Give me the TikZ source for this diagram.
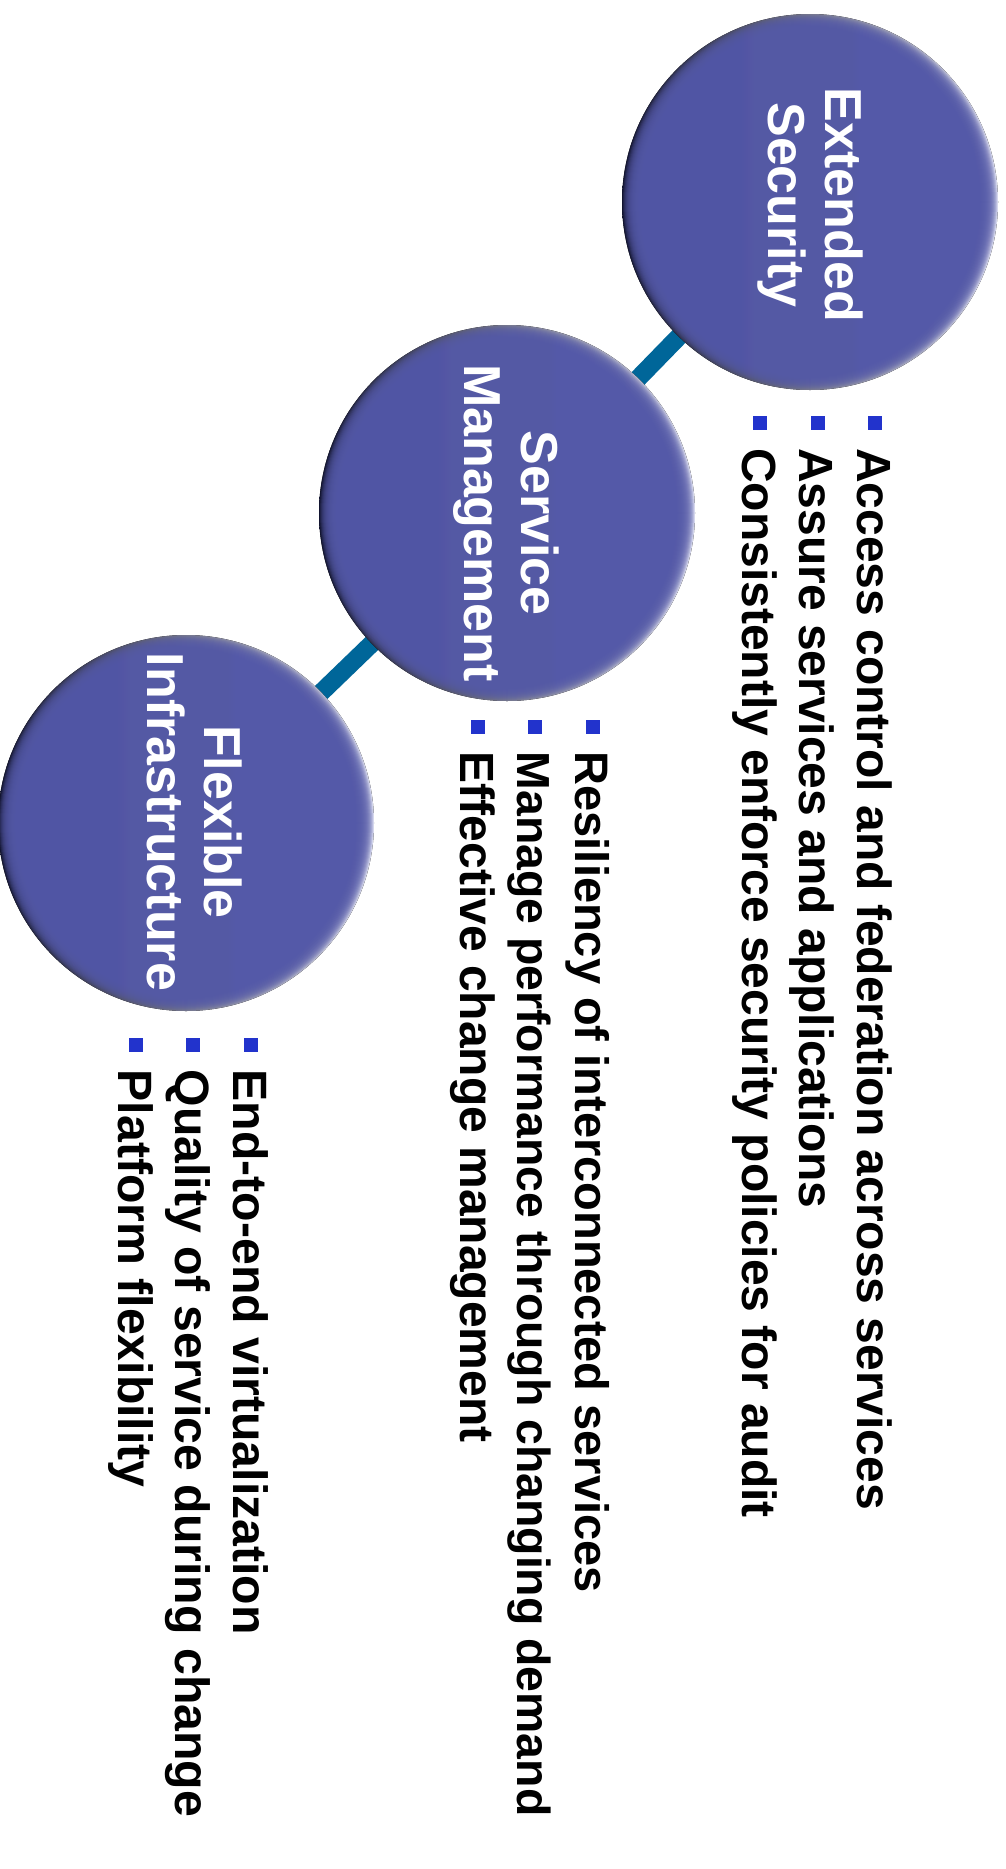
\documentclass[tikz,border=0pt]{standalone}
\usepackage{fontspec}
\setmainfont{Liberation Sans}

\definecolor{bubblebase}{RGB}{84,89,168}
\definecolor{rimdark}{RGB}{18,20,48}
\definecolor{rimlight}{RGB}{214,216,238}
\definecolor{linkblue}{RGB}{0,102,153}
\definecolor{bulletblue}{RGB}{34,51,204}

\newcommand\itemfont[1]{\bfseries\fontsize{#1}{57}\selectfont}

\tikzset{
  bubble/.style={circle, minimum size=376pt, inner sep=0pt},
  link/.style={draw=linkblue, line width=18pt},
  title/.style={text=white, font=\bfseries\fontsize{52}{57}\selectfont,
    align=center, rotate=-90, inner sep=0pt},
  item/.style={text=black, font=\itemfont{48},
    rotate=-90, anchor=base west, inner sep=0pt},
  bul/.style={rectangle, fill=bulletblue, minimum size=14pt, inner sep=0pt},
}

% a bevelled disc: dark rim on the left, light rim on the right, soft inner edge
\newcommand\shadedbubble[1]{%
  \fill[left color=rimdark, middle color=bubblebase, right color=rimlight]
    (#1.center) circle[radius=188pt];
  \foreach \r in {187,186,...,170}{%
    \fill[bubblebase, opacity=0.2] (#1.center) circle[radius=\r pt];
  }%
}

\begin{document}
\begin{tikzpicture}[x=1pt,y=-1pt]
  \fill[white] (0,0) rectangle (1006,1869);
  \useasboundingbox (0,0) rectangle (1006,1869);

  % the three discs
  \node[bubble] (es) at (810,202) {};
  \node[bubble] (sm) at (507,513) {};
  \node[bubble] (fi) at (186,823) {};

  % links between the discs
  \draw[link] (fi.center) -- (sm.center);
  \draw[link] (sm.center) -- (es.center);

  \shadedbubble{es}
  \shadedbubble{sm}
  \shadedbubble{fi}

  % disc titles
  \node[title] (tes) at (810,205) {Extended\\Security};
  \node[title] (tsm) at (506,523) {Service\\Management};
  \node[title] (tfi) at (195,822) {Flexible\\Infrastructure};

  % Extended Security items
  \node[bul] (b11) at (875,422.5) {};
  \node[bul] (b12) at (817.5,422.5) {};
  \node[bul] (b13) at (760,422.5) {};
  \node[item] (i11) at (857,448) {Access control and federation across services};
  \node[item] (i12) at (799.5,448) {Assure services and applications};
  \node[item] (i13) at (742,448) {Consistently enforce security policies for audit};

  % Service Management items
  \node[bul] (b21) at (593,726.5) {};
  \node[bul] (b22) at (535,726.5) {};
  \node[bul] (b23) at (478,726.5) {};
  \node[item, font=\itemfont{47}] (i21) at (575,751.5) {Resiliency of interconnected services};
  \node[item, font=\itemfont{46.4}] (i22) at (517,751.5) {Manage performance through changing demand};
  \node[item] (i23) at (460,751.5) {Effective change management};

  % Flexible Infrastructure items
  \node[bul] (b31) at (250.5,1045) {};
  \node[bul] (b32) at (193,1045) {};
  \node[bul] (b33) at (135.5,1045) {};
  \node[item, font=\itemfont{48.2}] (i31) at (233,1069.5) {End-to-end virtualization};
  \node[item, font=\itemfont{48.2}] (i32) at (175.5,1069.5) {Quality of service during change};
  \node[item, font=\itemfont{48.2}] (i33) at (118,1069.5) {Platform flexibility};
\end{tikzpicture}
\end{document}
